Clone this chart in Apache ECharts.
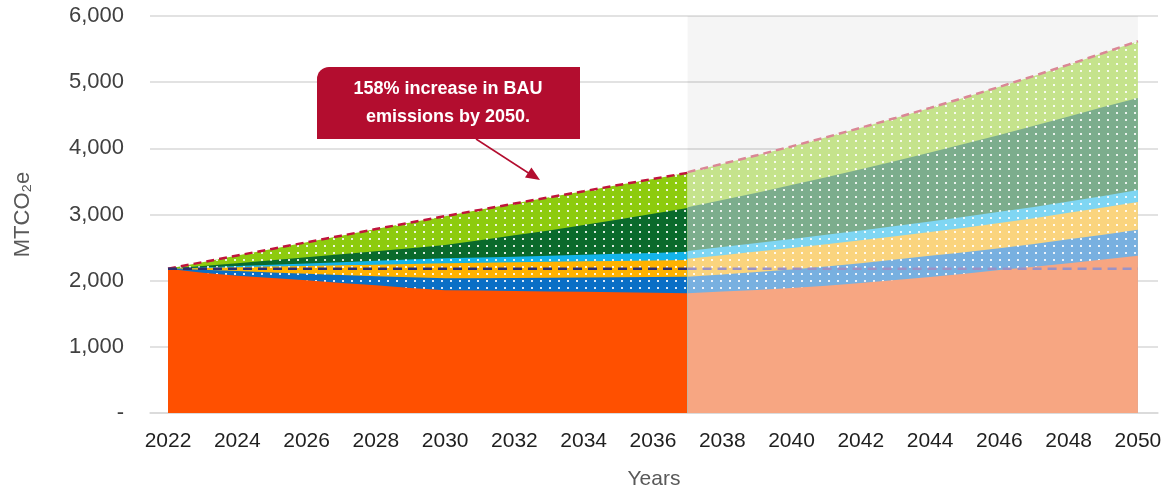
<!DOCTYPE html>
<html>
<head>
<meta charset="utf-8">
<script src="https://cdn.jsdelivr.net/npm/echarts@6/dist/echarts.min.js"></script>
<style>
  html, body { margin: 0; background: #fff; }
  #chart { width: 1168px; height: 492px; }
</style>
</head>
<body>
<div id="chart"></div>
<script>
// years: actual period (strong colours) and outlook period (faded, grey background)
const yearsActual = [2022, 2023, 2024, 2025, 2026, 2027, 2028, 2029, 2030, 2031, 2032, 2033, 2034, 2035, 2036, 2037];
const yearsOutlook = [2037, 2038, 2039, 2040, 2041, 2042, 2043, 2044, 2045, 2046, 2047, 2048, 2049, 2050];
const tickYears = [2022, 2024, 2026, 2028, 2030, 2032, 2034, 2036, 2038, 2040, 2042, 2044, 2046, 2048, 2050];
const baseline = 2180; // 2022 level, dashed navy line

// upper edge of each band (cumulative MTCO2e)
const orangeTop = [2180, 2120, 2075, 2040, 2005, 1965, 1930, 1890, 1855, 1850, 1845, 1838, 1832, 1826, 1818, 1810];
const blueTop = [2180, 2165, 2145, 2125, 2105, 2085, 2065, 2050, 2035, 2038, 2042, 2045, 2048, 2052, 2056, 2060];
const yellowTop = [2180, 2192, 2203, 2213, 2222, 2232, 2242, 2252, 2262, 2270, 2278, 2285, 2292, 2299, 2306, 2312];
const cyanTop = [2180, 2200, 2220, 2240, 2260, 2280, 2300, 2320, 2338, 2350, 2362, 2375, 2390, 2405, 2420, 2438];
const darkGreenTop = [2180, 2220, 2265, 2310, 2355, 2400, 2445, 2490, 2539, 2610, 2685, 2760, 2840, 2925, 3010, 3098];
const bauTotal = [2180, 2280, 2380, 2480, 2580, 2680, 2780, 2878, 2975, 3070, 3165, 3260, 3352, 3445, 3538, 3630];

const orangeTopOut = [1810, 1835, 1860, 1890, 1925, 1965, 2010, 2055, 2105, 2160, 2210, 2265, 2320, 2375];
const blueTopOut = [2060, 2095, 2130, 2170, 2215, 2265, 2320, 2375, 2430, 2490, 2555, 2625, 2695, 2770];
const yellowTopOut = [2330, 2385, 2440, 2495, 2550, 2610, 2670, 2735, 2800, 2870, 2945, 3025, 3105, 3190];
const cyanTopOut = [2450, 2510, 2570, 2630, 2695, 2760, 2825, 2895, 2965, 3040, 3115, 3195, 3280, 3370];
const darkGreenTopOut = [3110, 3218, 3330, 3445, 3563, 3685, 3810, 3938, 4069, 4203, 4340, 4480, 4623, 4760];
const bauTotalOut = [3640, 3765, 3895, 4029, 4168, 4311, 4459, 4611, 4768, 4929, 5095, 5265, 5440, 5620];

const pairs = (years, vals) => years.map((y, i) => [y, vals[i]]);

const dots = {
  symbol: 'rect',
  symbolSize: 1,
  color: 'rgba(255,255,255,0.85)',
  dashArrayX: [2, 7],
  dashArrayY: [2, 5]
};

// each band is drawn as an area down to zero, back to front
function band(name, years, vals, color, dotted) {
  return {
    name: name,
    type: 'line',
    data: pairs(years, vals),
    symbol: 'none',
    silent: true,
    z: 2,
    lineStyle: { width: 0 },
    itemStyle: dotted ? { color: color, decal: dots } : { color: color },
    areaStyle: { color: color, opacity: 1 }
  };
}

function dashed(name, data, color, dash) {
  return {
    name: name,
    type: 'line',
    data: data,
    symbol: 'none',
    silent: true,
    z: 5,
    lineStyle: { color: color, width: 2.5, type: dash }
  };
}

const chart = echarts.init(document.getElementById('chart'));

chart.setOption({
  animation: false,
  textStyle: { fontFamily: 'Liberation Sans, Arial, sans-serif' },
  grid: { left: 150, right: 10, top: 16, bottom: 79, outerBoundsMode: 'none' },
  xAxis: {
    type: 'value',
    min: 2021.48,
    max: 2050.58,
    name: 'Years',
    nameLocation: 'middle',
    nameGap: 56,
    nameTextStyle: { fontSize: 21, color: '#595959' },
    axisLine: { show: true, lineStyle: { color: '#D9D9D9', width: 1.5 } },
    axisTick: { show: false },
    splitLine: { show: false },
    axisLabel: {
      customValues: tickYears,
      formatter: v => String(v),
      fontSize: 21,
      color: '#1F1F1F',
      margin: 18
    }
  },
  yAxis: {
    type: 'value',
    min: 0,
    max: 6000,
    interval: 1000,
    name: 'MTCO\u2082e',
    nameLocation: 'middle',
    nameGap: 116,
    nameTextStyle: { fontSize: 22, color: '#595959' },
    axisLine: { show: false },
    axisTick: { show: false },
    splitLine: { lineStyle: { color: '#D9D9D9', width: 1.5 } },
    axisLabel: {
      fontSize: 22,
      color: '#404040',
      margin: 26,
      formatter: v => (v === 0 ? '-' : v.toLocaleString('en-US'))
    }
  },
  series: [
    {
      name: 'outlook',
      type: 'line',
      data: [],
      z: 1,
      markArea: {
        silent: true,
        itemStyle: { color: 'rgba(0,0,0,0.04)' },
        data: [[{ xAxis: 2037 }, { xAxis: 2050 }]]
      }
    },
    band('light green', yearsActual, bauTotal, '#8DCB0E', true),
    band('dark green', yearsActual, darkGreenTop, '#0A6A2C', true),
    band('light blue', yearsActual, cyanTop, '#14B4EA', true),
    band('yellow', yearsActual, yellowTop, '#FFB200', true),
    band('blue', yearsActual, blueTop, '#0A6FC6', true),
    band('orange', yearsActual, orangeTop, '#FF5000', false),

    band('light green', yearsOutlook, bauTotalOut, '#C5E38C', true),
    band('dark green', yearsOutlook, darkGreenTopOut, '#7CAD8D', true),
    band('light blue', yearsOutlook, cyanTopOut, '#7FD6F3', true),
    band('yellow', yearsOutlook, yellowTopOut, '#FAD47E', true),
    band('blue', yearsOutlook, blueTopOut, '#78B0E0', true),
    band('orange', yearsOutlook, orangeTopOut, '#F7A682', false),

    dashed('BAU', pairs(yearsActual, bauTotal), '#C0143C', [8, 5]),
    dashed('BAU', pairs(yearsOutlook, bauTotalOut), '#DA8795', [8, 5]),
    dashed('2022 level', [[yearsActual[0], baseline], [yearsActual[yearsActual.length - 1], baseline]], '#2E2E6E', [9, 6]),
    dashed('2022 level', [[yearsOutlook[0], baseline], [yearsOutlook[yearsOutlook.length - 1], baseline]], '#9A92C6', [9, 6])
  ],
  graphic: [
    {
      type: 'rect',
      shape: { x: 317, y: 67, width: 263, height: 72, r: [12, 0, 0, 0] },
      style: { fill: '#B30D2F' },
      z: 10
    },
    {
      type: 'text',
      x: 448,
      y: 103,
      z: 11,
      style: {
        text: '158% increase in BAU\nemissions by 2050.',
        fill: '#FFFFFF',
        font: 'bold 18px "Liberation Sans", Arial, sans-serif',
        lineHeight: 28,
        align: 'center',
        verticalAlign: 'middle'
      }
    },
    {
      type: 'line',
      shape: { x1: 476, y1: 139, x2: 530, y2: 174 },
      style: { stroke: '#B30D2F', lineWidth: 1.5 },
      z: 10
    },
    {
      type: 'polygon',
      shape: { points: [[540, 180], [525, 177.6], [531.4, 167.5]] },
      style: { fill: '#B30D2F' },
      z: 10
    }
  ]
});
</script>
</body>
</html>
